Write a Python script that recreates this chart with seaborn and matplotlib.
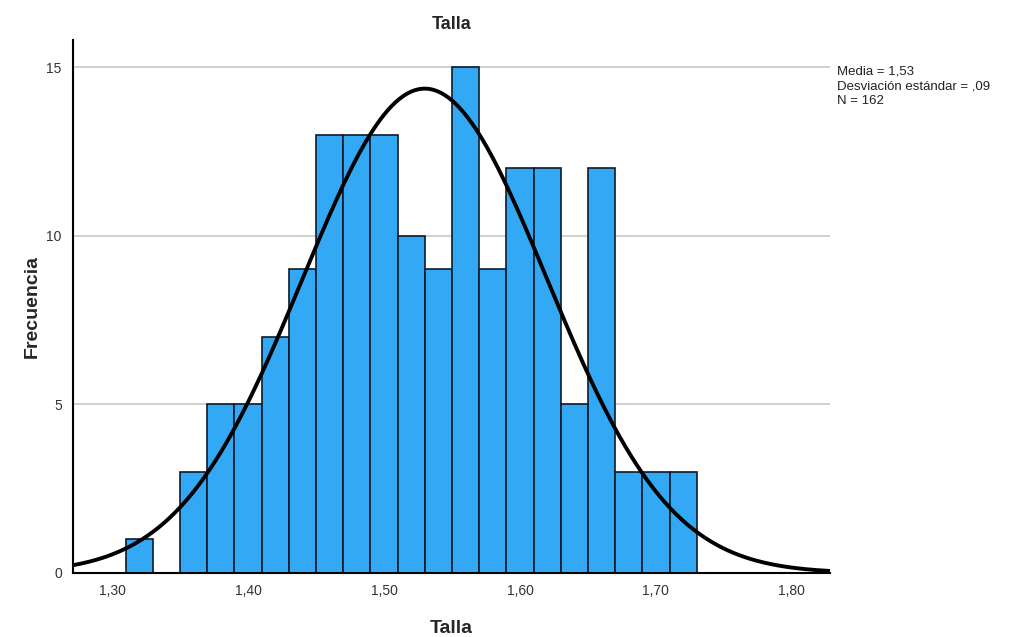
import numpy as np
import pandas as pd
import matplotlib
matplotlib.use("Agg")
import matplotlib.pyplot as plt
import seaborn as sns

# Height histogram (bin width 0.02 m)
bin_centers = [1.32, 1.34, 1.36, 1.38, 1.40, 1.42, 1.44, 1.46, 1.48, 1.50, 1.52,
               1.54, 1.56, 1.58, 1.60, 1.62, 1.64, 1.66, 1.68, 1.70, 1.72]
counts = [1, 0, 3, 5, 5, 7, 9, 13, 13, 13, 10, 9, 15, 9, 12, 12, 5, 12, 3, 3, 3]
mean_val = 1.53
sd_val = 0.09
n_total = 162
x_ticks = [1.30, 1.40, 1.50, 1.60, 1.70, 1.80]
x_tick_labels = ["1,30", "1,40", "1,50", "1,60", "1,70", "1,80"]
y_ticks = [0, 5, 10, 15]

df = pd.DataFrame({"Talla": bin_centers, "n": counts})
bin_width = 0.02
edges = [round(1.31 + i * bin_width, 4) for i in range(len(bin_centers) + 1)]

sns.set_style("white")
plt.rcParams["font.family"] = ["Arial", "Liberation Sans", "DejaVu Sans"]

fig = plt.figure(figsize=(10.09, 6.37), dpi=100)
ax = fig.add_axes([0.0723, 0.1005, 0.7503, 0.8365])

for y in [5, 10, 15]:
    ax.axhline(y, color="#c8c8c8", lw=1.2, zorder=0)

sns.histplot(data=df, x="Talla", weights="n", bins=edges, ax=ax,
             color="#33a9f5", alpha=1, edgecolor="#0d1b2a", linewidth=1.2,
             zorder=2)

# Fitted normal curve scaled to counts
xs = np.linspace(1.2713, 1.828, 400)
pdf = np.exp(-0.5 * ((xs - mean_val) / sd_val) ** 2) / (sd_val * np.sqrt(2 * np.pi))
curve = pd.DataFrame({"x": xs, "y": pdf * n_total * bin_width})
sns.lineplot(data=curve, x="x", y="y", ax=ax, color="black", lw=2.8, zorder=3)

ax.set_xlim(1.2713, 1.828)
ax.set_ylim(0, 15.8)

ax.set_xticks(x_ticks)
ax.set_xticklabels(x_tick_labels, fontsize=10, color="#333333")
ax.set_yticks(y_ticks)
ax.set_yticklabels([str(v) for v in y_ticks], fontsize=10, color="#333333")
ax.tick_params(length=0, pad=8)

for side in ["top", "right"]:
    ax.spines[side].set_visible(False)
for side in ["left", "bottom"]:
    ax.spines[side].set_color("black")
    ax.spines[side].set_linewidth(1.5)

ax.set_xlabel("Talla", fontsize=14, fontweight="bold", labelpad=16)
ax.set_ylabel("Frecuencia", fontsize=14, fontweight="bold", labelpad=4)
ax.set_title("Talla", fontsize=13, fontweight="bold", pad=8)

fig.text(0.830, 0.897,
         "Media = 1,53\nDesviación estándar = ,09\nN = 162",
         fontsize=9.5, va="top", ha="left", linespacing=1.3, color="#222222")

fig.savefig("out.png", dpi=100)
